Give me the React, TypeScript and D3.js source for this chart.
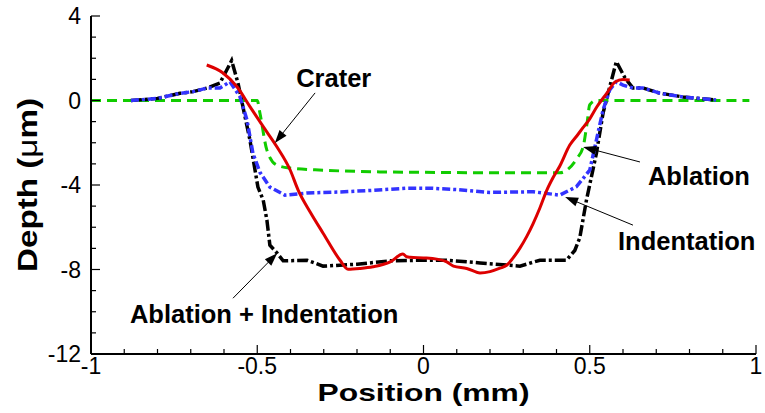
import React, { useEffect } from 'react';
import * as d3 from 'd3';

const W = 765;
const H = 413;

const xTicks = [-1, -0.5, 0, 0.5, 1];
const xTickLabels = ['-1', '-0.5', '0', '0.5', '1'];
const yTicks = [4, 0, -4, -8, -12];
const yTickLabels = ['4', '0', '-4', '-8', '-12'];

// Ablation (green dashed)
const ablationX = [-1, -0.5, -0.492, -0.471, -0.441, -0.401, -0.3, -0.131, 0, 0.2, 0.41, 0.462, 0.48, 0.492, 0.5, 0.52, 0.98];
const ablationY = [0, 0, -0.59, -2.35, -3.06, -3.2, -3.3, -3.38, -3.4, -3.42, -3.42, -2.73, -2.2, -1.07, -0.2, 0, 0];

// Indentation (blue dash-dot)
const indentX = [-0.88, -0.8, -0.732, -0.693, -0.651, -0.612, -0.582, -0.552, -0.531, -0.513, -0.492, -0.462, -0.417, -0.35, -0.25, -0.15, -0.05, 0.02, 0.1, 0.2, 0.33, 0.41, 0.46, 0.5, 0.52, 0.54, 0.56, 0.58, 0.6, 0.63, 0.66, 0.71, 0.78, 0.88];
const indentY = [0, 0.1, 0.34, 0.42, 0.59, 0.59, 0.89, 0.18, -0.92, -2.5, -3.4, -4.1, -4.48, -4.38, -4.33, -4.25, -4.15, -4.15, -4.22, -4.35, -4.32, -4.48, -4.08, -3.3, -1.87, -0.45, 0.5, 0.89, 0.73, 0.59, 0.59, 0.35, 0.17, 0.02];

// Ablation + Indentation (black dash-dot)
const comboX = [-0.88, -0.8, -0.732, -0.693, -0.651, -0.612, -0.577, -0.558, -0.543, -0.522, -0.498, -0.482, -0.471, -0.462, -0.44, -0.422, -0.35, -0.302, -0.2, -0.1, 0, 0.07, 0.17, 0.29, 0.35, 0.43, 0.455, 0.47, 0.49, 0.52, 0.54, 0.56, 0.58, 0.606, 0.63, 0.66, 0.71, 0.78, 0.88];
const comboY = [0, 0.1, 0.34, 0.42, 0.59, 0.83, 1.89, 0.83, -0.3, -1.87, -4.1, -4.72, -5.66, -6.85, -7.23, -7.59, -7.56, -7.84, -7.75, -7.59, -7.56, -7.56, -7.69, -7.84, -7.56, -7.56, -7.1, -6.5, -4.72, -2.5, -0.6, 0.64, 1.84, 1.07, 0.59, 0.59, 0.35, 0.17, 0.02];

// Crater (red solid)
const craterX = [-0.652, -0.603, -0.561, -0.522, -0.482, -0.441, -0.401, -0.377, -0.34, -0.302, -0.251, -0.227, -0.19, -0.152, -0.1, -0.062, -0.05, -0.04, 0, 0.04, 0.07, 0.09, 0.13, 0.17, 0.2, 0.23, 0.25, 0.269, 0.29, 0.311, 0.329, 0.35, 0.371, 0.389, 0.41, 0.44, 0.461, 0.479, 0.5, 0.521, 0.552, 0.576, 0.6, 0.62];
const craterY = [1.68, 1.3, 0.65, -0.29, -1.24, -2.19, -3.29, -4.24, -5.3, -6.28, -7.56, -7.99, -7.95, -7.87, -7.64, -7.27, -7.4, -7.42, -7.45, -7.51, -7.64, -7.84, -7.95, -8.16, -8.1, -7.94, -7.8, -7.46, -6.99, -6.42, -5.85, -5.09, -4.24, -3.67, -3.1, -2.11, -1.68, -1.3, -0.87, -0.31, 0.36, 0.88, 1.0, 0.97];

// Annotations: label, text anchor point, arrow tail, arrow head (data units)
const annLabels = ['Crater', 'Ablation', 'Indentation', 'Ablation + Indentation'];
const annTextX = [-0.27, 0.675, 0.585, -0.883];
const annTextY = [0.65, -4.0, -7.09, -10.55];
const annAnchor = ['middle', 'start', 'start', 'start'];
const annTail = [[-0.326, 0.36], [0.651, -2.91], [0.63, -5.9], [-0.573, -9.36]];
const annHead = [[-0.447, -2.01], [0.48, -2.2], [0.426, -4.57], [-0.44, -7.23]];

const FONT = 'Liberation Sans, Arial, Helvetica, sans-serif';

export default function App() {
  useEffect(() => {
    document.body.style.margin = '0';
  }, []);

  const x = d3.scaleLinear().domain([-1, 1]).range([91, 756]);
  const y = d3.scaleLinear().domain([-12, 4]).range([354, 16]);

  const mk = (xs: number[], ys: number[], curve: any) =>
    d3.line<number>().x((_, i) => x(xs[i])).y((_, i) => y(ys[i])).curve(curve)(xs.map((_, i) => i)) || '';

  const xMinor = d3.range(-10, 11).map((i) => i / 10);
  const yMinor = d3.range(-12, 5);

  const arrowHead = (tail: number[], head: number[]) => {
    const tx = x(tail[0]), ty = y(tail[1]);
    const hx = x(head[0]), hy = y(head[1]);
    const dx = hx - tx, dy = hy - ty;
    const len = Math.sqrt(dx * dx + dy * dy);
    const ux = dx / len, uy = dy / len;
    const L = 13, w = 4.5;
    const bx = hx - ux * L, by = hy - uy * L;
    return {
      line: [tx, ty, bx + ux * 2, by + uy * 2],
      poly: `${hx},${hy} ${bx - uy * w},${by + ux * w} ${bx + uy * w},${by - ux * w}`,
    };
  };

  return (
    <svg width={W} height={H} style={{ display: 'block', background: '#fff' }} fontFamily={FONT}>
      {/* series */}
      <path d={mk(ablationX, ablationY, d3.curveMonotoneX)} fill="none" stroke="#11cc00" strokeWidth={3} strokeDasharray="10,6" />
      <path d={mk(comboX, comboY, d3.curveLinear)} fill="none" stroke="#000" strokeWidth={3.5} strokeDasharray="11,3,3,3" />
      <path d={mk(indentX, indentY, d3.curveLinear)} fill="none" stroke="#3333ff" strokeWidth={3.5} strokeDasharray="8,3,3,3" />
      <path d={mk(craterX, craterY, d3.curveMonotoneX)} fill="none" stroke="#dd0000" strokeWidth={3} />

      {/* axes */}
      <line x1={x(-1)} x2={x(1)} y1={y(-12)} y2={y(-12)} stroke="#000" strokeWidth={2} />
      <line x1={x(-1)} x2={x(-1)} y1={y(-12)} y2={y(4)} stroke="#000" strokeWidth={2} />
      {xMinor.map((v, i) => (
        <line key={'xm' + i} x1={x(v)} x2={x(v)} y1={y(-12)} y2={y(-12) - (i % 5 === 0 ? 9 : 5)} stroke="#000" strokeWidth={1.2} />
      ))}
      {yMinor.map((v, i) => (
        <line key={'ym' + i} x1={x(-1)} x2={x(-1) + (v % 4 === 0 ? 9 : 5)} y1={y(v)} y2={y(v)} stroke="#000" strokeWidth={1.2} />
      ))}
      {xTicks.map((v, i) => (
        <text key={'xl' + i} x={x(v)} y={y(-12) + 19.5} textAnchor="middle" fontSize={23} fill="#000">{xTickLabels[i]}</text>
      ))}
      {yTicks.map((v, i) => (
        <text key={'yl' + i} x={x(-1) - 10} y={y(v) + 8} textAnchor="end" fontSize={23} fill="#000">{yTickLabels[i]}</text>
      ))}

      {/* axis titles */}
      <text x={x(0)} y={401} textAnchor="middle" fontSize={24.5} fontWeight="bold" fill="#000" textLength={212} lengthAdjust="spacingAndGlyphs">Position (mm)</text>
      <text transform={`translate(37,185) rotate(-90)`} textAnchor="middle" fontSize={28} fontWeight="bold" fill="#000" textLength={174} lengthAdjust="spacingAndGlyphs">
        Depth (<tspan fontWeight="normal">μ</tspan>m)
      </text>

      {/* annotations */}
      {annLabels.map((lab, i) => {
        const a = arrowHead(annTail[i], annHead[i]);
        return (
          <g key={'an' + i}>
            <line x1={a.line[0]} y1={a.line[1]} x2={a.line[2]} y2={a.line[3]} stroke="#000" strokeWidth={1} />
            <polygon points={a.poly} fill="#000" />
            <text x={x(annTextX[i])} y={y(annTextY[i])} textAnchor={annAnchor[i]} fontSize={25.5} fontWeight="bold" fill="#000">{lab}</text>
          </g>
        );
      })}
    </svg>
  );
}
